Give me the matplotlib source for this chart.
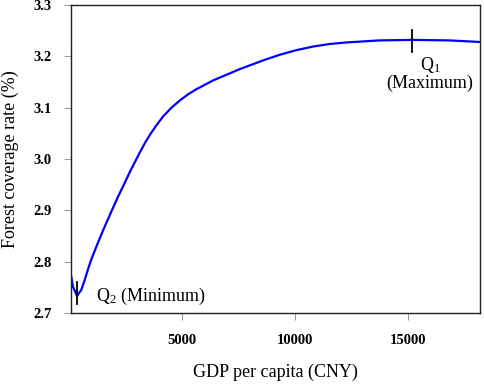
import matplotlib
matplotlib.use("Agg")
import matplotlib.pyplot as plt

plt.rcParams['font.family'] = ['Liberation Serif', 'DejaVu Serif']
plt.rcParams['mathtext.fontset'] = 'custom'
plt.rcParams['mathtext.rm'] = 'Liberation Serif'
plt.rcParams['mathtext.it'] = 'Liberation Serif:italic'

# values
gdp = [143, 218, 394, 583, 733, 878, 1023, 1318, 1613, 1903, 2198, 2493,
       2726, 3166, 3386, 3606, 3900, 4191, 4560, 4925, 5290, 5660, 6390,
       7565, 8590, 9325, 10059, 10790, 11524, 12259, 13723, 15175, 16803,
       18123]
rate = [2.771, 2.751, 2.733, 2.745, 2.764, 2.785, 2.804, 2.837, 2.868,
        2.897, 2.926, 2.953, 2.975, 3.013, 3.031, 3.047, 3.066, 3.083,
        3.100, 3.114, 3.126, 3.136, 3.153, 3.175, 3.192, 3.203, 3.212,
        3.219, 3.224, 3.227, 3.231, 3.232, 3.231, 3.228]

q_min = (394, 2.733)
q_max = (15175, 3.232)
xticks = [5000, 10000, 15000]
yticks = [2.7, 2.8, 2.9, 3.0, 3.1, 3.2, 3.3]

fig = plt.figure(figsize=(4.84, 3.84), dpi=100)
ax = fig.add_axes([0.1467, 0.185, 0.845, 0.802])

ax.plot(gdp, rate, color='#0000ff', lw=1.6, solid_capstyle='round',
        solid_joinstyle='round')

# vertical markers at extrema
ax.plot([q_min[0], q_min[0]], [q_min[1] - 0.015, q_min[1] + 0.027], color='black', lw=1.3)
ax.plot([q_max[0], q_max[0]], [q_max[1] - 0.023, q_max[1] + 0.019], color='black', lw=1.3)

ax.text(1230, q_min[1], 'Q$_2$ (Minimum)', fontsize=13, va='center', ha='left')
ax.text(q_max[0] + 770, q_max[1] - 0.03, 'Q$_1$\n(Maximum)', fontsize=13,
        va='top', ha='center', linespacing=0.95)

ax.set_xlim(130, 18150)
ax.set_ylim(2.7, 3.3)
ax.set_xticks(xticks)
ax.set_yticks(yticks)
ax.set_xticklabels([str(t) for t in xticks], fontweight='bold', fontsize=10.5)
ax.set_yticklabels(['%.1f' % t for t in yticks], fontweight='bold', fontsize=10.5)
ax.tick_params(direction='out', length=5, width=0.8, color='#999999', pad=9)
ax.tick_params(axis='x', pad=10)

for s in ax.spines.values():
    s.set_color('#222222')
    s.set_linewidth(1.0)

ax.set_xlabel('GDP per capita (CNY)', fontsize=13, labelpad=12)
ax.set_ylabel('Forest coverage rate (%)', fontsize=13, labelpad=10)

fig.savefig('out.png', dpi=100)
